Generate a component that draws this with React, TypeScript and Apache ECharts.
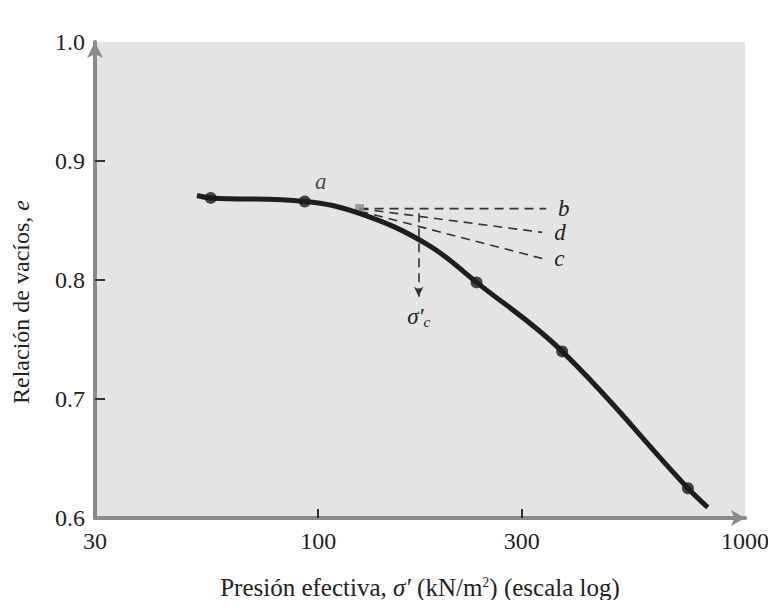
import React, { useEffect, useRef } from "react";
import * as echarts from "echarts";

// Curve traced through the consolidation test (log scale pressure, kN/m²)
const curvePressure = [52, 56, 93, 125, 180, 235, 373, 735, 818];
const curveVoid = [0.871, 0.869, 0.866, 0.856, 0.83, 0.798, 0.74, 0.625, 0.609];
// Measured points
const pointPressure = [56, 93, 235, 373, 735];
const pointVoid = [0.869, 0.866, 0.798, 0.74, 0.625];
// Casagrande construction lines (start at point of max curvature)
const constrStart = [125, 0.86];
const lineB = [342, 0.86];
const lineD = [335, 0.84];
const lineC = [335, 0.818];
const sigmaC = 172;
const sigmaArrow = [0.856, 0.786];
const xTickLabels = [30, 100, 300, 1000];
const xTicks = [100, 300];
const yTicks = [0.7, 0.8, 0.9];

const serif = "'Liberation Serif', 'DejaVu Serif', serif";
const ink = "#222";

export default function App() {
  const ref = useRef<HTMLDivElement>(null);
  useEffect(() => {
    if (!ref.current) return;
    const chart = echarts.init(ref.current, undefined, { renderer: "svg" });
    const dash = { type: [9, 6] as any, color: "#333", width: 1.6 };
    const lbl = (t: string) => ({
      show: true,
      position: "right" as const,
      distance: 12,
      formatter: t,
      fontFamily: serif,
      fontStyle: "italic" as const,
      fontSize: 23,
      color: ink,
    });
    chart.setOption({
      animation: false,
      grid: {
        left: 95,
        right: 31,
        top: 42,
        bottom: 90,
        show: true,
        backgroundColor: "#e4e4e4",
        borderWidth: 0,
      },
      graphic: [
        {
          type: "text",
          x: 21,
          y: 302,
          rotation: Math.PI / 2,
          style: {
            text: "Relación de vacíos, {i|e}",
            align: "center",
            verticalAlign: "middle",
            fontFamily: serif,
            fontSize: 24,
            fill: ink,
            rich: { i: { fontFamily: serif, fontStyle: "italic", fontSize: 24, fill: ink } as any },
          },
        },
      ],
      xAxis: {
        type: "log",
        logBase: 10,
        min: 30,
        max: 1000,
        name: "Presión efectiva, {i|σ′} (kN/m{sup|2}) (escala log)",
        nameLocation: "middle",
        nameGap: 57,
        nameTextStyle: {
          fontFamily: serif,
          fontSize: 25,
          color: ink,
          rich: {
            i: { fontFamily: serif, fontStyle: "italic", fontSize: 25, color: ink },
            sup: { fontFamily: serif, fontSize: 14, verticalAlign: "top", color: ink, padding: [0, 0, 11, 0] },
          },
        },
        axisLine: {
          show: true,
          lineStyle: { color: "#8a8a8a", width: 4 },
          symbol: ["none", "arrow"],
          symbolSize: [12, 14],
        },
        axisTick: { show: true, inside: true, length: 9, lineStyle: { color: "#333", width: 2 }, customValues: xTicks },
        axisLabel: {
          customValues: xTickLabels,
          fontFamily: serif,
          fontSize: 24,
          color: ink,
          margin: 11,
          formatter: (v: number) => String(Math.round(v)),
        },
        splitLine: { show: false },
        minorTick: { show: false },
      },
      yAxis: {
        type: "value",
        min: 0.6,
        max: 1.0,
        interval: 0.1,
        axisLine: {
          show: true,
          lineStyle: { color: "#8a8a8a", width: 4 },
          symbol: ["none", "arrow"],
          symbolSize: [12, 16],
        },
        axisTick: { show: true, inside: true, length: 10, lineStyle: { color: "#333", width: 2 }, customValues: yTicks },
        axisLabel: {
          fontFamily: serif,
          fontSize: 24,
          color: ink,
          margin: 10,
          formatter: (v: number) => v.toFixed(1),
        },
        splitLine: { show: false },
      },
      series: [
        {
          type: "line",
          data: [constrStart, lineB],
          symbol: "none",
          lineStyle: dash,
          endLabel: lbl("b"),
          z: 3,
        },
        {
          type: "line",
          data: [constrStart, lineD],
          symbol: "none",
          lineStyle: dash,
          endLabel: lbl("d"),
          z: 3,
        },
        {
          type: "line",
          data: [[constrStart[0], constrStart[1] - 0.002], lineC],
          symbol: "none",
          lineStyle: dash,
          endLabel: lbl("c"),
          z: 3,
        },
        {
          type: "line",
          data: [[sigmaC, sigmaArrow[0]], [sigmaC, sigmaArrow[1]]],
          symbol: "none",
          lineStyle: { ...dash, opacity: 0 },
          markLine: {
            silent: true,
            symbol: ["none", "arrow"],
            symbolSize: [7, 10],
            lineStyle: dash,
            label: {
              show: true,
              position: "end",
              distance: 6,
              formatter: "{s|σ′}{c|c}",
              rich: {
                s: { fontFamily: serif, fontStyle: "italic", fontSize: 23, color: ink },
                c: { fontFamily: serif, fontStyle: "italic", fontSize: 15, color: ink, verticalAlign: "bottom", padding: [12, 0, 0, 0] },
              },
            },
            data: [[{ coord: [sigmaC, sigmaArrow[0]] }, { coord: [sigmaC, sigmaArrow[1]] }]],
          },
          z: 3,
        },
        {
          type: "line",
          data: curvePressure.map((p, i) => [p, curveVoid[i]]),
          smooth: 0.4,
          symbol: "none",
          lineStyle: { color: "#1e1e1e", width: 5 },
          z: 4,
        },
        {
          type: "scatter",
          data: pointPressure.map((p, i) => [p, pointVoid[i]]),
          symbol: "circle",
          symbolSize: 12,
          itemStyle: { color: "#1a1a1a" },
          label: {
            show: true,
            formatter: (p: any) => (p.dataIndex === 1 ? "a" : ""),
            position: "top",
            distance: 2,
            offset: [16, 0],
            fontFamily: serif,
            fontStyle: "italic",
            fontSize: 23,
            color: ink,
          },
          z: 5,
        },
        {
          type: "scatter",
          data: [constrStart],
          symbol: "rect",
          symbolSize: 9,
          itemStyle: { color: "#8c8c8c" },
          z: 3,
        },
      ],
    });
    return () => chart.dispose();
  }, []);
  return <div ref={ref} style={{ width: 776, height: 608, margin: -8, background: "#fff" }} />;
}
